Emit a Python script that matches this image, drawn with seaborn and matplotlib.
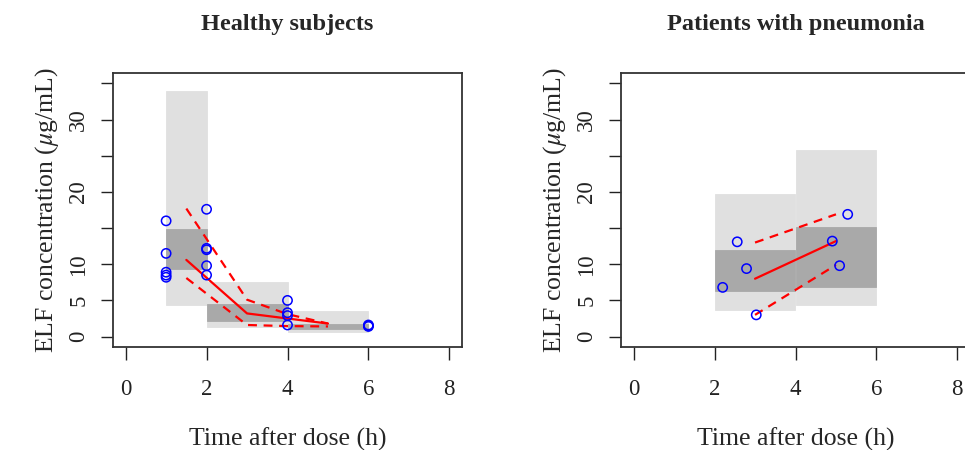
import numpy as np
import pandas as pd
import matplotlib
matplotlib.use("Agg")
import matplotlib.pyplot as plt
import seaborn as sns

# --- healthy subjects ---
healthy_bin_left = [1, 2, 4]
healthy_bin_width = [1, 2, 2]
healthy_pi_lo = [4.3, 1.3, 0.7]
healthy_pi_hi = [34.0, 7.6, 3.6]
healthy_iqr_lo = [9.3, 2.2, 1.1]
healthy_iqr_hi = [14.9, 4.5, 1.8]

healthy_time = [1, 1, 1, 1, 1, 2, 2, 2, 2, 2, 4, 4, 4, 4, 6, 6, 6]
healthy_conc = [16.0, 11.5, 8.9, 8.5, 8.2, 17.6, 12.2, 12.0, 9.8, 8.5,
                5.0, 3.3, 2.9, 1.6, 1.6, 1.5, 1.4]

healthy_line_time = [1.5, 3, 4, 5]
healthy_median = [10.6, 3.2, 2.5, 1.8]
healthy_upper = [17.7, 5.1, 3.1, 1.8]
healthy_lower = [8.1, 1.6, 1.45, 1.4]

# --- patients with pneumonia ---
pneu_bin_left = [2, 4]
pneu_bin_width = [2, 2]
pneu_pi_lo = [3.7, 4.4]
pneu_pi_hi = [19.7, 25.8]
pneu_iqr_lo = [6.3, 6.8]
pneu_iqr_hi = [12.0, 15.1]

pneu_time = [2.2, 2.56, 2.79, 3.03, 4.91, 5.09, 5.29]
pneu_conc = [6.8, 13.1, 9.4, 3.0, 13.2, 9.8, 16.9]

pneu_line_time = [3, 5]
pneu_median = [8.0, 13.2]
pneu_upper = [13.0, 16.9]
pneu_lower = [3.0, 9.9]

titles = ["Healthy subjects", "Patients with pneumonia"]
yticks = [0, 5, 10, 15, 20, 25, 30, 35]
yticklabels = ["0", "5", "10", "", "20", "", "30", ""]
xticks = [0, 2, 4, 6, 8]

sns.set_style("ticks")
plt.rcParams["font.family"] = ["Liberation Serif", "DejaVu Serif"]
plt.rcParams["mathtext.fontset"] = "stix"

fig = plt.figure(figsize=(9.65, 4.5), dpi=100)
ax_w = 349.6 / 965
ax_h = 273.4 / 450
ax_b = (450 - 346.7) / 450
axes = [fig.add_axes([112.7 / 965, ax_b, ax_w, ax_h]),
        fig.add_axes([620.7 / 965, ax_b, ax_w, ax_h])]

panels = [
    (healthy_bin_left, healthy_bin_width, healthy_pi_lo, healthy_pi_hi,
     healthy_iqr_lo, healthy_iqr_hi, healthy_time, healthy_conc,
     healthy_line_time, healthy_median, healthy_upper, healthy_lower),
    (pneu_bin_left, pneu_bin_width, pneu_pi_lo, pneu_pi_hi,
     pneu_iqr_lo, pneu_iqr_hi, pneu_time, pneu_conc,
     pneu_line_time, pneu_median, pneu_upper, pneu_lower),
]

light, dark = "#e0e0e0", "#a9a9a9"

for ax, title, p in zip(axes, titles, panels):
    (bl, bw, plo, phi, qlo, qhi, t, c, lt, med, up, lo) = p
    plo, phi, qlo, qhi = map(np.array, (plo, phi, qlo, qhi))

    # prediction interval (light) and interquartile range (dark) per bin
    ax.bar(bl, phi - plo, bottom=plo, width=bw, align="edge",
           color=light, edgecolor=light, linewidth=0.6, zorder=1)
    ax.bar(bl, qhi - qlo, bottom=qlo, width=bw, align="edge",
           color=dark, edgecolor=dark, linewidth=0.6, zorder=2)

    obs = pd.DataFrame({"time": t, "conc": c})
    sns.scatterplot(data=obs, x="time", y="conc", ax=ax, marker="o",
                    facecolor="none", edgecolor="blue", linewidth=1.1,
                    s=45, zorder=4)

    summ = pd.DataFrame({"time": lt, "median": med, "upper": up, "lower": lo})
    sns.lineplot(data=summ, x="time", y="median", ax=ax, color="red",
                 lw=1.6, zorder=3)
    for col in ["upper", "lower"]:
        sns.lineplot(data=summ, x="time", y=col, ax=ax, color="red",
                     lw=1.6, dashes=(4, 3), zorder=3)

    ax.set_xlim(-0.32, 8.32)
    ax.set_ylim(-1.4, 36.4)
    ax.set_xticks(xticks)
    ax.set_xticklabels([str(v) for v in xticks])
    ax.set_yticks(yticks)
    ax.set_yticklabels(yticklabels, rotation=90, va="center")
    ax.tick_params(axis="both", direction="out", length=9, width=1,
                   colors="#222222", labelsize=16.5)
    ax.tick_params(axis="x", pad=14)
    ax.tick_params(axis="y", pad=8)
    for sp in ax.spines.values():
        sp.set_visible(True)
        sp.set_color("#333333")
        sp.set_linewidth(1.3)

    ax.set_title(title, fontsize=17.5, fontweight="bold", pad=31)
    ax.set_xlabel("Time after dose (h)", fontsize=18.5, labelpad=20)
    ax.set_ylabel(r"ELF concentration ($\mu$g/mL)", fontsize=18.5, labelpad=5)

fig.savefig("out.png", dpi=100)
